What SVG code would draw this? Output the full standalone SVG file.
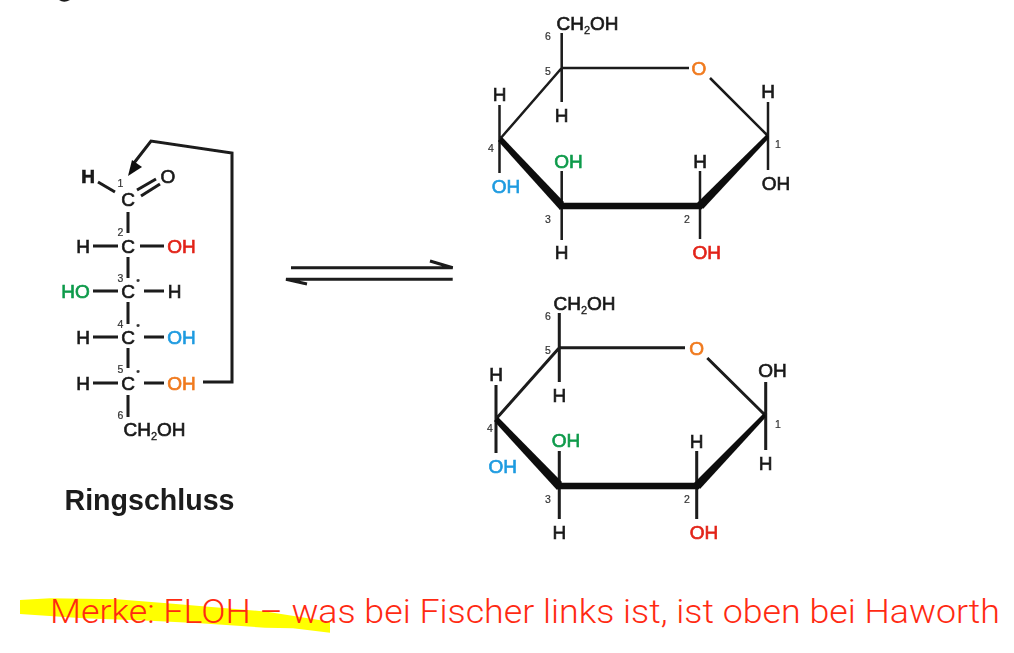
<svg xmlns="http://www.w3.org/2000/svg" width="1014" height="653" viewBox="0 0 1014 653">
<style>
text{font-family:"Liberation Sans",Arial,sans-serif}
.a{font-size:19px;fill:#1a1a1a;stroke:#1a1a1a;stroke-width:.65;text-anchor:middle}
.s{font-size:10.500px;fill:#333;stroke:#333;stroke-width:.2;text-anchor:middle}
.red{fill:#e2231a;stroke:#e2231a}
.grn{fill:#0a9a4a;stroke:#0a9a4a}
.blu{fill:#1e9be0;stroke:#1e9be0}
.org{fill:#f07a1e;stroke:#f07a1e}
.sub{font-size:11px;stroke-width:.3}
.b{stroke:#1a1a1a;stroke-width:3;fill:none}
.n{stroke:#1a1a1a;stroke-width:2.500;fill:none}
.w{fill:#111;stroke:none}
.soft{filter:url(#soft)}
</style>
<defs><filter id="soft" x="-5%" y="-5%" width="110%" height="110%"><feGaussianBlur stdDeviation="0.45"/></filter></defs>
<rect width="1014" height="653" fill="#fff"/>
<path d="M59 0Q64 3.500 70 0Z" fill="#1a1a1a"/>
<polygon id="highlight" fill="#ffff00" points="20,600 50,598.300 117,599.300 167,603.300 267,611.700 330,621.700 330,632.700 293,628.300 265,627.700 200,623.300 150,620.700 83,618.300 20,614"/>
<g id="connectors" class="soft">
<g id="fischer-bonds" class="b">
<path d="M98 182L115 192M137 190L156 179M141 196L160 184M128 212V233M93 246H118M140 246H164M128 257V278M93 291H118M144 291H164M128 302V324M93 337H118M144 337H164M128 348V368M93 383H118M144 383H164M128 395V417"/>
<path d="M203 382H232V153L151 141L134 163"/>
</g>
<polygon class="w" points="128,176 132,160 142,167"/>
<g id="equilibrium-arrows" class="b">
<path d="M291 267.700H452.700L430 261M452.700 279.300H286L307 284"/>
</g>
<g id="ring-top">
<path class="n" d="M561.700 33V102M561.700 68H689M710 78L768 136M561.700 68L500 139M499.500 105V173M561.700 171V240M700 171V239M768 102V170"/>
<polygon class="w" points="498,141 502,137 564,202 560,210"/>
<path d="M559 206H702" stroke="#111" stroke-width="6.500" fill="none"/>
<polygon class="w" points="697,203 767,134 769,138 703,209"/>
</g>
<g id="ring-bottom">
<path class="b" d="M559.300 313V382M559.300 347.700H685M707.300 358L765 415M559.300 347.700L496 419M496 385V453M559.300 451V519M696.700 451V519M765.700 382V450"/>
<polygon class="w" points="494,421 498,417 562,482 557,490"/>
<path d="M557 486H699" stroke="#111" stroke-width="6.500" fill="none"/>
<polygon class="w" points="694,483 764,413 766,417 700,489"/>
</g>
</g>
<g id="fischer" class="soft">
<g id="f-c1"><text class="a" x="88" y="182.500" font-weight="bold">H</text><text class="a" x="168" y="183">O</text><text class="s" x="120.500" y="187">1</text><text class="a" x="128" y="206">C</text></g>
<g id="f-c2"><text class="s" x="120.500" y="235.500">2</text><text class="a" x="83" y="253">H</text><text class="a" x="128" y="253">C</text><text class="a red" x="181.500" y="253">OH</text></g>
<g id="f-c3"><text class="s" x="120.500" y="282">3</text><text class="s" x="138" y="284">•</text><text class="a grn" x="75.500" y="298">HO</text><text class="a" x="128" y="298">C</text><text class="a" x="174.500" y="298">H</text></g>
<g id="f-c4"><text class="s" x="120.500" y="327.500">4</text><text class="s" x="138" y="329">•</text><text class="a" x="83" y="344">H</text><text class="a" x="128" y="344">C</text><text class="a blu" x="181.500" y="344">OH</text></g>
<g id="f-c5"><text class="s" x="120.500" y="373">5</text><text class="s" x="138" y="375">•</text><text class="a" x="83" y="390">H</text><text class="a" x="128" y="390">C</text><text class="a org" x="181.500" y="390">OH</text></g>
<g id="f-c6"><text class="s" x="120.500" y="419">6</text><text class="a" x="154.500" y="436">CH<tspan class="sub" dy="4">2</tspan><tspan dy="-4">OH</tspan></text></g>
<text id="ringschluss" x="64.500" y="509.500" font-size="28.600" font-weight="bold" fill="#1a1a1a">Ringschluss</text>
</g>
<g id="haworth-top" class="soft">
<g id="t-c6"><text class="s" x="548" y="39.500">6</text><text class="a" x="587.500" y="30">CH<tspan class="sub" dy="4">2</tspan><tspan dy="-4">OH</tspan></text></g>
<g id="t-c5"><text class="s" x="548" y="74.500">5</text><text class="a" x="561.700" y="122">H</text></g>
<g id="t-o"><text class="a org" x="699" y="75">O</text></g>
<g id="t-c4"><text class="s" x="491" y="151.500">4</text><text class="a" x="499.500" y="101">H</text><text class="a blu" x="506" y="193">OH</text></g>
<g id="t-c3"><text class="s" x="548" y="222.500">3</text><text class="a grn" x="568.500" y="168">OH</text><text class="a" x="561.700" y="259">H</text></g>
<g id="t-c2"><text class="s" x="687" y="222.500">2</text><text class="a" x="700" y="168">H</text><text class="a red" x="706.700" y="259">OH</text></g>
<g id="t-c1"><text class="s" x="778" y="147.500">1</text><text class="a" x="768" y="98">H</text><text class="a" x="776" y="190">OH</text></g>
</g>
<g id="haworth-bottom" class="soft">
<g id="b-c6"><text class="s" x="548" y="319.500">6</text><text class="a" x="584.500" y="310">CH<tspan class="sub" dy="4">2</tspan><tspan dy="-4">OH</tspan></text></g>
<g id="b-c5"><text class="s" x="548" y="353.500">5</text><text class="a" x="559.300" y="402">H</text></g>
<g id="b-o"><text class="a org" x="696.700" y="355">O</text></g>
<g id="b-c4"><text class="s" x="490" y="431.500">4</text><text class="a" x="496" y="381">H</text><text class="a blu" x="502.700" y="473">OH</text></g>
<g id="b-c3"><text class="s" x="548" y="502.500">3</text><text class="a grn" x="566" y="447">OH</text><text class="a" x="559.300" y="539">H</text></g>
<g id="b-c2"><text class="s" x="687" y="502.500">2</text><text class="a" x="696.700" y="448">H</text><text class="a red" x="704" y="539">OH</text></g>
<g id="b-c1"><text class="s" x="778" y="427.500">1</text><text class="a" x="772.500" y="377">OH</text><text class="a" x="765.700" y="470">H</text></g>
</g>
<text id="merke" x="50" y="623" font-size="34" font-weight="300" textLength="950" lengthAdjust="spacingAndGlyphs" fill="#ff2a12" style="font-family:Roboto,'Liberation Sans',sans-serif">Merke: FLOH – was bei Fischer links ist, ist oben bei Haworth</text>
</svg>
